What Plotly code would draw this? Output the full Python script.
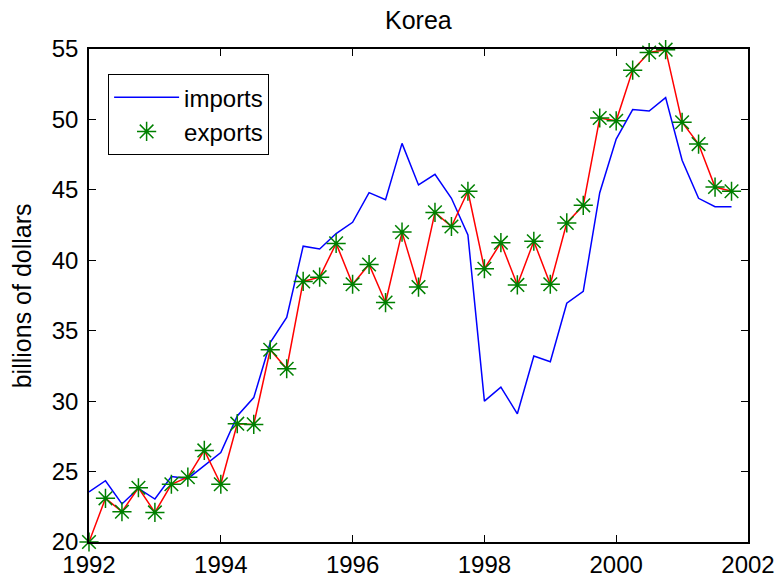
import plotly.graph_objects as go

quarters = [1992.00, 1992.25, 1992.50, 1992.75, 1993.00, 1993.25, 1993.50, 1993.75,
            1994.00, 1994.25, 1994.50, 1994.75, 1995.00, 1995.25, 1995.50, 1995.75,
            1996.00, 1996.25, 1996.50, 1996.75, 1997.00, 1997.25, 1997.50, 1997.75,
            1998.00, 1998.25, 1998.50, 1998.75, 1999.00, 1999.25, 1999.50, 1999.75,
            2000.00, 2000.25, 2000.50, 2000.75, 2001.00, 2001.25, 2001.50, 2001.75]

imports = [23.55, 24.35, 22.7, 23.8, 23.05, 24.65, 24.5, 25.45,
           26.35, 28.95, 30.25, 34.15, 35.95, 41.0, 40.8, 41.9,
           42.7, 44.8, 44.3, 48.3, 45.35, 46.1, 44.4, 41.8,
           30.0, 31.0, 29.1, 33.2, 32.8, 36.95, 37.8, 44.8,
           48.6, 50.7, 50.6, 51.55, 47.1, 44.4, 43.8, 43.8]

exports = [20.0, 23.1, 22.15, 23.85, 22.1, 24.1, 24.6, 26.5,
           24.1, 28.4, 28.35, 33.65, 32.3, 38.5, 38.8, 41.2,
           38.3, 39.7, 37.0, 42.0, 38.1, 43.4, 42.4, 44.9,
           39.4, 41.25, 38.25, 41.35, 38.3, 42.65, 43.9, 50.1,
           49.9, 53.5, 54.75, 54.95, 49.8, 48.25, 45.2, 44.9]

x_ticks = [1992, 1994, 1996, 1998, 2000, 2002]
y_ticks = [20, 25, 30, 35, 40, 45, 50, 55]

FONT = "Liberation Sans, Arial, Helvetica, sans-serif"

fig = go.Figure()
fig.add_trace(go.Scatter(x=quarters, y=imports, mode="lines", name="imports",
                         line=dict(color="#0000ff", width=1.5), cliponaxis=False))
fig.add_trace(go.Scatter(x=quarters, y=exports, mode="lines", showlegend=False,
                         line=dict(color="#ff0000", width=1.5), cliponaxis=False))
fig.add_trace(go.Scatter(x=quarters, y=exports, mode="markers", name="exports",
                         cliponaxis=False,
                         marker=dict(symbol="asterisk-open", size=16, color="#008000",
                                     line=dict(color="#008000", width=1.5))))

fig.update_layout(
    width=782, height=583,
    margin=dict(l=89, r=34, t=49, b=41, autoexpand=False),
    paper_bgcolor="white", plot_bgcolor="white",
    font=dict(family=FONT, size=24, color="black"),
    showlegend=True,
    legend=dict(x=0.029, y=0.949, xanchor="left", yanchor="top",
                bordercolor="black", borderwidth=1, bgcolor="white",
                font=dict(size=24), tracegroupgap=0, itemwidth=65),
    xaxis=dict(range=[1992, 2002], tickvals=x_ticks, ticktext=[str(v) for v in x_ticks],
               ticks="inside", ticklen=7, tickcolor="black", tickwidth=1,
               showline=True, linecolor="black", linewidth=1.5, mirror="ticks",
               showgrid=False, zeroline=False, tickfont=dict(size=24),
               automargin=False),
    yaxis=dict(range=[20, 55], tickvals=y_ticks, ticktext=[str(v) for v in y_ticks],
               ticks="inside", ticklen=7, tickcolor="black", tickwidth=1,
               showline=True, linecolor="black", linewidth=1.5, mirror="ticks",
               showgrid=False, zeroline=False, tickfont=dict(size=24),
               ticklabelstandoff=4, automargin=False),
    annotations=[
        dict(text="Korea", x=0.5, y=1.059, xref="paper", yref="paper",
             xanchor="center", yanchor="middle", showarrow=False, font=dict(size=25)),
        dict(text="billions of dollars", x=-0.102, y=0.5, xref="paper", yref="paper",
             xanchor="center", yanchor="middle", textangle=-90, showarrow=False,
             font=dict(size=25)),
    ],
)

fig.write_html("out.html",
               config={"displayModeBar": False},
               post_script="document.body.style.margin='0px';document.body.style.overflow='hidden';")
